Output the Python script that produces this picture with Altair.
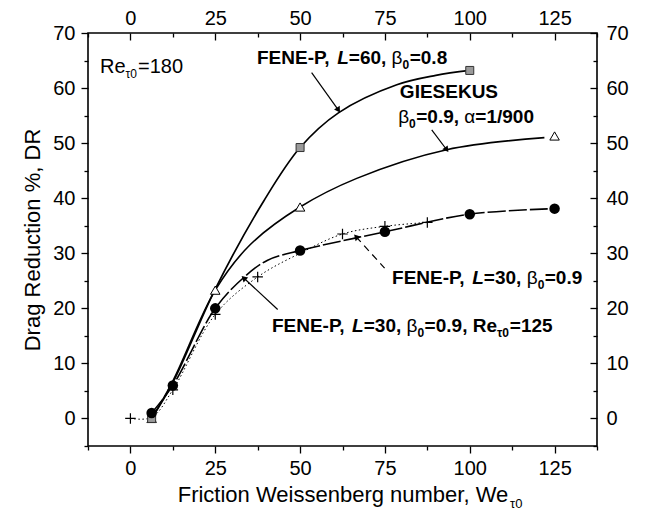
import altair as alt
import pandas as pd

# ---------------- data ----------------
# markers
sq_x = [6.25, 50, 100]
sq_y = [0.0, 49.2, 63.2]
tri_x = [6.25, 25, 50, 125]
tri_y = [0.0, 23.3, 38.4, 51.3]
circ_x = [6.25, 12.5, 25, 50, 75, 100, 125]
circ_y = [1.0, 6.0, 20.0, 30.5, 33.9, 37.1, 38.1]
cross_x = [0, 12.5, 25, 37.5, 62.5, 75, 87.5]
cross_y = [0.0, 5.2, 18.9, 25.7, 33.5, 34.9, 35.6]

# curves
l60_x = [6.25, 12.5, 25, 39.3, 50, 61.3, 78.5, 90, 100]
l60_y = [0.0, 6.5, 23.5, 39.5, 49.2, 55.5, 60.6, 62.3, 63.2]
gie_x = [6.25, 12.5, 25, 35.2, 50, 66.7, 93.2, 122]
gie_y = [0.0, 6.8, 23.3, 31.5, 38.4, 43.6, 48.8, 51.0]
l30_x = [6.25, 12.5, 25, 33.4, 40.3, 50, 75, 100, 125]
l30_y = [1.0, 6.0, 20.0, 25.6, 28.7, 30.5, 33.9, 37.1, 38.1]
r125_x = [0, 6.25, 12.5, 25, 37.5, 50, 62.5, 75, 87.5]
r125_y = [0.0, 0.2, 5.2, 18.9, 25.7, 30.0, 33.5, 34.9, 35.6]

# arrows: start -> end (head)
arr_x1 = [53.4, 88.8, 74.9, 43.4]
arr_y1 = [62.8, 52.4, 27.3, 19.8]
arr_x2 = [61.3, 93.2, 66.5, 33.4]
arr_y2 = [56.0, 48.8, 33.0, 25.5]
arr_angle = [148, 144, 317, 313]

# tick values
x_ticks = [-12.5 + 12.5 * i for i in range(13)]
x_labels = [0, 25, 50, 75, 100, 125]
y_ticks = [-5 + 5 * i for i in range(16)]
y_labels = [0, 10, 20, 30, 40, 50, 60, 70]

# annotation texts: (text, size, weight, style, dy) pieces
ann_re180 = [("Re", 20, "normal", "normal", 0), ("τ0", 12, "normal", "normal", 7),
             ("=180", 20, "normal", "normal", 0)]
ann_l60 = [("FENE-P, ", 19, "bold", "normal", 0), ("L", 19, "bold", "italic", 0),
           ("=60, ", 19, "bold", "normal", 0), ("β", 19, "normal", "normal", 0),
           ("0", 12, "bold", "normal", 7), ("=0.8", 19, "bold", "normal", 0)]
ann_gie1 = [("GIESEKUS", 19, "bold", "normal", 0)]
ann_gie2 = [("β", 19, "normal", "normal", 0), ("0", 12, "bold", "normal", 7),
            ("=0.9, ", 19, "bold", "normal", 0), ("α", 19, "normal", "normal", 0),
            ("=1/900", 19, "bold", "normal", 0)]
ann_l30 = [("FENE-P, ", 19, "bold", "normal", 0), ("L", 19, "bold", "italic", 0),
           ("=30, ", 19, "bold", "normal", 0), ("β", 19, "normal", "normal", 0),
           ("0", 12, "bold", "normal", 7), ("=0.9", 19, "bold", "normal", 0)]
ann_r125 = [("FENE-P, ", 19, "bold", "normal", 0), ("L", 19, "bold", "italic", 0),
            ("=30, ", 19, "bold", "normal", 0), ("β", 19, "normal", "normal", 0),
            ("0", 12, "bold", "normal", 7), ("=0.9, Re", 19, "bold", "normal", 0),
            ("τ0", 12, "bold", "normal", 7), ("=125", 19, "bold", "normal", 0)]
ann_pos = {  # left edge / vertical centre in data units
    "re180": (-8.96, 63.8), "l60": (37.3, 65.5), "gie1": (79.4, 59.2),
    "gie2": (78.9, 54.8), "l30": (77.1, 25.5), "r125": (41.7, 16.8),
}

FONT = "Liberation Sans"
W, H = 509, 413

# approximate advance widths (Arial metrics, per 1000 em) for placing text pieces
_REG = {" ": 278, "%": 889, ",": 278, "-": 333, ".": 278, "/": 278, "=": 584,
        "D": 722, "R": 722, "a": 556, "c": 500, "d": 556, "e": 556, "g": 556,
        "i": 222, "n": 556, "o": 556, "r": 333, "t": 278, "u": 556,
        "τ": 440, "β": 575, "α": 580}
_BOLD = {" ": 278, ",": 278, "-": 333, ".": 278, "/": 278, "=": 584, "E": 667,
         "F": 611, "G": 778, "I": 278, "K": 722, "L": 611, "N": 722, "P": 667,
         "R": 722, "S": 667, "U": 722, "e": 556, "τ": 470}


def text_width(s, size, weight):
    table = _BOLD if weight == "bold" else _REG
    return sum(table.get(ch, 556) for ch in s) * size / 1000.0


xs = alt.Scale(domain=[-12.5, 137.5], nice=False, zero=False)
ys = alt.Scale(domain=[-5, 70], nice=False, zero=False)

tick_x = {"condition": {"test": "datum.value % 25 == 0", "value": 7}, "value": 4}
tick_y = {"condition": {"test": "datum.value % 10 == 0", "value": 7}, "value": 4}

ax_bottom = alt.Axis(orient="bottom", values=x_ticks, tickSize=tick_x,
                     labelExpr="(datum.value % 25 == 0 && datum.value >= 0 && datum.value <= 125) ? datum.label : ''",
                     title="Friction Weissenberg number, We", labelPadding=5, titlePadding=6)
ax_left = alt.Axis(orient="left", values=y_ticks, tickSize=tick_y,
                   labelExpr="(datum.value % 10 == 0 && datum.value >= 0) ? datum.label : ''",
                   title="Drag Reduction %, DR", labelPadding=6, titlePadding=8)
ax_top = alt.Axis(orient="top", values=x_labels, ticks=False, title=None, labelPadding=5)
ax_right = alt.Axis(orient="right", values=y_labels, ticks=False, title=None, labelPadding=9)
ax_top_in = alt.Axis(orient="bottom", offset=-H, values=x_ticks, tickSize=tick_x,
                     labels=False, title=None)
ax_right_in = alt.Axis(orient="left", offset=-W, values=y_ticks, tickSize=tick_y,
                       labels=False, title=None)


def df(x, y):
    return pd.DataFrame({"x": x, "y": y})


def enc(chart, xa=None, ya=None):
    return chart.encode(
        x=alt.X("x:Q", scale=xs, axis=xa),
        y=alt.Y("y:Q", scale=ys, axis=ya),
    )


line_l60 = enc(alt.Chart(df(l60_x, l60_y)).mark_line(
    color="black", strokeWidth=1.7, interpolate="catmull-rom"), ax_bottom, ax_left)
line_gie = enc(alt.Chart(df(gie_x, gie_y)).mark_line(
    color="black", strokeWidth=1.6, interpolate="catmull-rom"), ax_top, ax_right)
line_l30 = enc(alt.Chart(df(l30_x, l30_y)).mark_line(
    color="black", strokeWidth=1.6, strokeDash=[18, 3], interpolate="catmull-rom"), ax_top_in, ax_right_in)
line_r125 = enc(alt.Chart(df(r125_x, r125_y)).mark_line(
    color="black", strokeWidth=1, strokeDash=[1.5, 2.5], interpolate="catmull-rom"))

pts_sq = enc(alt.Chart(df(sq_x, sq_y)).mark_point(
    shape="square", size=64, filled=True, fill="#9a9a9a", stroke="#333333", strokeWidth=1, opacity=1))
pts_tri = enc(alt.Chart(df(tri_x, tri_y)).mark_point(
    shape="triangle-up", size=90, filled=True, fill="white", stroke="black", strokeWidth=1, opacity=1))
pts_circ = enc(alt.Chart(df(circ_x, circ_y)).mark_point(
    shape="circle", size=110, filled=True, color="black", opacity=1))
pts_cross = enc(alt.Chart(df(cross_x, cross_y)).mark_point(
    shape="M-1,0L1,0M0,-1L0,1", size=110, filled=False, stroke="black", strokeWidth=1.2, opacity=1))

arr_df = pd.DataFrame({
    "id": [0, 1, 2, 3] * 2,
    "x": arr_x1 + arr_x2,
    "y": arr_y1 + arr_y2,
})
arrows_solid = alt.Chart(arr_df[arr_df["id"] != 2]).mark_line(color="black", strokeWidth=1.2).encode(
    x=alt.X("x:Q", scale=xs, axis=None), y=alt.Y("y:Q", scale=ys, axis=None), detail="id:N")
arrows_dash = alt.Chart(arr_df[arr_df["id"] == 2]).mark_line(
    color="black", strokeWidth=1.2, strokeDash=[7, 5]).encode(
    x=alt.X("x:Q", scale=xs, axis=None), y=alt.Y("y:Q", scale=ys, axis=None))
heads = alt.Chart(pd.DataFrame({"x": arr_x2, "y": arr_y2, "a": arr_angle})).mark_point(
    shape="triangle-up", size=45, filled=True, color="black", opacity=1).encode(
    x=alt.X("x:Q", scale=xs, axis=None), y=alt.Y("y:Q", scale=ys, axis=None),
    angle=alt.Angle("a:Q", scale=None))


# ---------------- annotation text pieces ----------------
def txt(x, y, text, size=18, weight="bold", style="normal", dx=0, dy=0):
    return alt.Chart(pd.DataFrame({"x": [x], "y": [y], "t": [text]})).mark_text(
        align="left", baseline="middle", font=FONT, fontSize=size, fontWeight=weight,
        fontStyle=style, dx=dx, dy=dy, color="black").encode(
        x=alt.X("x:Q", scale=xs, axis=None), y=alt.Y("y:Q", scale=ys, axis=None), text="t:N")


def rich(key, pieces):
    x, y = ann_pos[key]
    out, dx = [], 0.0
    for text, size, weight, style, dy in pieces:
        out.append(txt(x, y, text, size=size, weight=weight, style=style, dx=round(dx, 1), dy=dy))
        dx += text_width(text, size, weight) + (0.5 if dy else 0)
    return out


texts = (rich("re180", ann_re180) + rich("l60", ann_l60) + rich("gie1", ann_gie1)
         + rich("gie2", ann_gie2) + rich("l30", ann_l30) + rich("r125", ann_r125)
         + [txt(111.6, -15.5, "τ0", size=13, weight="normal", dx=1)])  # x-title subscript

chart = alt.layer(
    line_l60, line_gie, line_l30, line_r125,
    arrows_solid, arrows_dash, heads,
    pts_tri, pts_sq, pts_circ, pts_cross,
    *texts,
).resolve_axis(x="independent", y="independent").properties(
    width=W, height=H,
    autosize=alt.AutoSizeParams(type="none"),
    padding={"left": 80, "top": 25, "right": 50, "bottom": 70},
    background="white",
).configure_view(
    stroke="black", strokeWidth=1.6
).configure_axis(
    domain=False, grid=False,
    tickColor="black", tickWidth=1.3,
    labelFont=FONT, labelFontSize=20, labelColor="black",
    titleFont=FONT, titleFontSize=22, titleFontWeight="normal", titleColor="black",
    labelOverlap=False, labelFlush=False,
)

chart.save("out.html", embed_options={"renderer": "svg", "actions": False})
